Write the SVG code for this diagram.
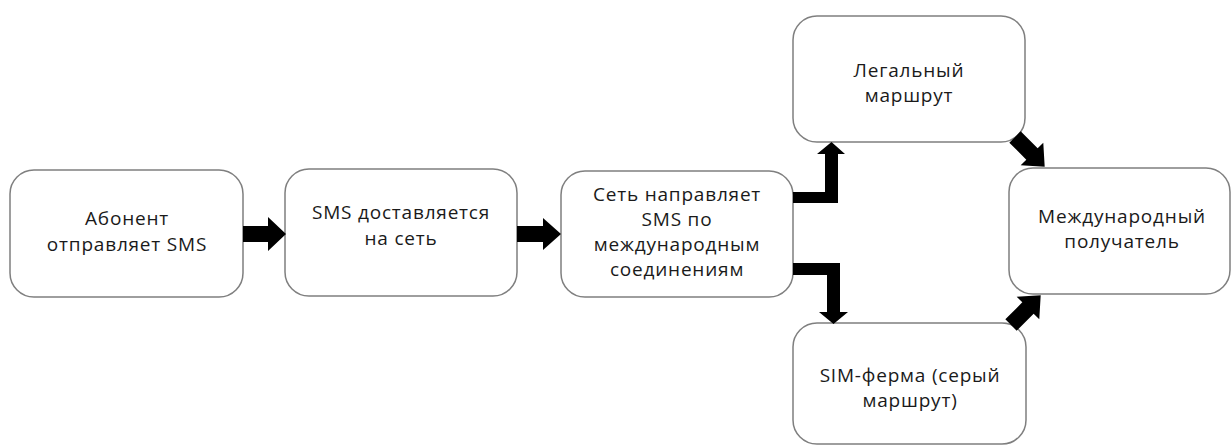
<svg xmlns="http://www.w3.org/2000/svg" width="1232" height="445" viewBox="0 0 1232 445">
<style>
.box{fill:#fff;stroke:#7f7f7f;stroke-width:1.5}
.t{font-family:"Open Sans","Liberation Sans",sans-serif;font-size:19px;letter-spacing:0.8px;fill:#1a1a1a;text-anchor:middle}
.ar{fill:#000}
</style>
<rect width="1232" height="445" fill="#fff"/>
<g id="n1"><rect class="box" x="10" y="170" width="233" height="127" rx="24"/>
<text class="t" x="127" y="225">Абонент</text><text class="t" x="127" y="251">отправляет SMS</text></g>
<g id="n2"><rect class="box" x="285" y="169" width="232" height="127" rx="24"/>
<text class="t" x="401" y="219">SMS доставляется</text><text class="t" x="401" y="245">на сеть</text></g>
<g id="n3"><rect class="box" x="561" y="171" width="232" height="126" rx="24"/>
<text class="t" x="677" y="201">Сеть направляет</text><text class="t" x="677" y="226">SMS по</text><text class="t" x="677" y="251">международным</text><text class="t" x="677" y="276">соединениям</text></g>
<g id="n4"><rect class="box" x="793" y="16" width="232" height="126" rx="24"/>
<text class="t" x="909" y="77">Легальный</text><text class="t" x="909" y="102">маршрут</text></g>
<g id="n5"><rect class="box" x="793" y="323" width="233" height="121" rx="24"/>
<text class="t" x="910" y="382">SIM-ферма (серый</text><text class="t" x="910" y="407">маршрут)</text></g>
<g id="n6"><rect class="box" x="1009" y="168" width="221" height="126" rx="24"/>
<text class="t" x="1122" y="223">Международный</text><text class="t" x="1122" y="248">получатель</text></g>
<g id="connectors">
<path class="ar" d="M0,-8 H25 V-17 L43,0 L25,17 V8 H0 Z" transform="translate(243,234)"/>
<path class="ar" d="M0,-8 H26 V-16 L44,0 L26,16 V8 H0 Z" transform="translate(517,234)"/>
<path class="ar" d="M793,203 H838 V154 H845 L831.5,142 L817,154 H825 V192 H793 Z"/>
<path class="ar" d="M793,263 H840 V312 H848 L833.5,324 L819,312 H827 V275 H793 Z"/>
<path class="ar" d="M0,-8 H24 V-16 L42,0 L24,16 V8 H0 Z" transform="translate(1015,137) rotate(45)"/>
<path class="ar" d="M0,-8 H24 V-16 L42,0 L24,16 V8 H0 Z" transform="translate(1011,325) rotate(-45)"/>
</g>
</svg>
